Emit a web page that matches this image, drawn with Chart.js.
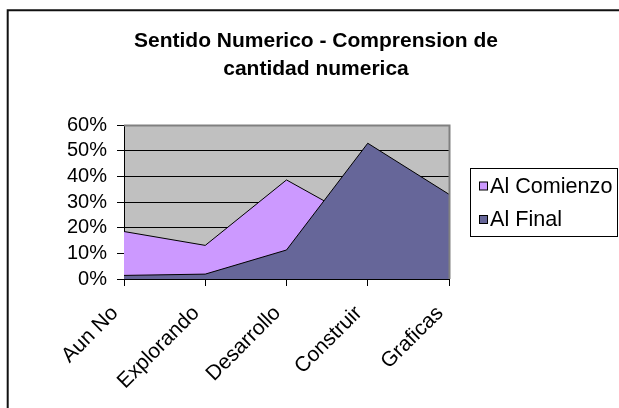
<!DOCTYPE html>
<html>
<head>
<meta charset="utf-8">
<script src="https://cdn.jsdelivr.net/npm/chart.js@4.4.0/dist/chart.umd.min.js"></script>
<style>
  html, body { margin: 0; padding: 0; background: #fff; overflow: hidden; }
  #wrap { width: 619px; height: 408px; position: relative; }
  canvas { display: block; }
</style>
</head>
<body>
<div id="wrap"><canvas id="c" width="619" height="408"></canvas></div>
<script>
const titleLines = ["Sentido Numerico - Comprension de", "cantidad numerica"];
const categories = ["Aun No", "Explorando", "Desarrollo", "Construir", "Graficas"];
const seriesNames = ["Al Comienzo", "Al Final"];
const alComienzo = [0.185, 0.131, 0.386, 0.21, 0.084];
const alFinal = [0.014, 0.019, 0.113, 0.529, 0.33];
const seriesColors = ["#CC99FF", "#666699"];
const yTicks = [0, 0.1, 0.2, 0.3, 0.4, 0.5, 0.6];

const FONT = "'Liberation Sans', Arial, sans-serif";

const decor = {
  id: 'decor',
  beforeDraw(chart) {
    const ctx = chart.ctx, a = chart.chartArea;
    ctx.save();
    ctx.fillStyle = '#fff';
    ctx.fillRect(0, 0, chart.width, chart.height);
    ctx.fillStyle = '#C0C0C0';
    ctx.fillRect(a.left, a.top, a.right - a.left, a.bottom - a.top);
    ctx.restore();
  },
  afterDatasetsDraw(chart) {
    const ctx = chart.ctx, a = chart.chartArea;
    ctx.save();
    ctx.strokeStyle = '#808080';
    ctx.lineWidth = 2;
    ctx.beginPath();
    ctx.moveTo(a.left, a.top + 0.5);
    ctx.lineTo(a.right + 0.5, a.top + 0.5);
    ctx.lineTo(a.right + 0.5, a.bottom);
    ctx.stroke();
    ctx.restore();
  },
  afterDraw(chart) {
    const ctx = chart.ctx;
    ctx.save();
    // outer frame (left and top edges visible)
    ctx.strokeStyle = '#111';
    ctx.lineWidth = 2;
    ctx.beginPath();
    ctx.moveTo(7.7, chart.height + 5);
    ctx.lineTo(7.7, 10.2);
    ctx.lineTo(chart.width + 5, 10.2);
    ctx.stroke();
    // title
    ctx.fillStyle = '#000';
    ctx.font = "bold 21px " + FONT;
    ctx.textAlign = 'center';
    ctx.textBaseline = 'middle';
    titleLines.forEach((t, i) => ctx.fillText(t, 316, 41 + i * 28.5));
    // legend
    ctx.strokeStyle = '#000';
    ctx.lineWidth = 1;
    ctx.strokeRect(470.5, 168.5, 147, 68);
    ctx.font = "21.6px " + FONT;
    ctx.textAlign = 'left';
    seriesNames.forEach((n, i) => {
      const cy = 186 + i * 33.5;
      ctx.fillStyle = seriesColors[i];
      ctx.fillRect(479.5, cy - 4, 8, 8);
      ctx.strokeRect(479.5, cy - 4, 8, 8);
      ctx.fillStyle = '#000';
      ctx.fillText(n, 490, cy + 1);
    });
    ctx.restore();
  }
};

new Chart(document.getElementById('c'), {
  type: 'line',
  data: {
    labels: categories,
    datasets: [
      { label: seriesNames[0], data: alComienzo, backgroundColor: seriesColors[0], borderColor: '#000', borderWidth: 1, fill: 'origin', pointRadius: 0, tension: 0, order: 2 },
      { label: seriesNames[1], data: alFinal, backgroundColor: seriesColors[1], borderColor: '#000', borderWidth: 1, fill: 'origin', pointRadius: 0, tension: 0, order: 1 }
    ]
  },
  options: {
    responsive: false,
    animation: false,
    devicePixelRatio: 1,
    layout: { padding: { left: 0, right: 170, top: 125, bottom: 0 } },
    plugins: { legend: { display: false }, title: { display: false }, tooltip: { enabled: false } },
    scales: {
      x: {
        type: 'category',
        offset: false,
        afterFit(s) { s.height = 129; },
        grid: { display: true, drawOnChartArea: false, drawTicks: true, tickLength: 7, color: '#000', lineWidth: 1 },
        border: { display: true, color: '#000', width: 1 },
        ticks: { color: '#000', font: { family: FONT, size: 21 }, minRotation: 45, maxRotation: 45, autoSkip: false, padding: 15, labelOffset: -9 }
      },
      y: {
        min: 0, max: 0.6,
        afterFit(s) { s.width = 124; },
        afterBuildTicks(s) { s.ticks = yTicks.map(v => ({ value: v })); },
        grid: { color: '#000', lineWidth: 1, drawTicks: true, tickLength: 7, tickColor: '#000' },
        border: { display: true, color: '#000', width: 1 },
        ticks: { color: '#000', font: { family: FONT, size: 20 }, padding: 10, autoSkip: false, callback: v => Math.round(v * 100) + '%' }
      }
    }
  },
  plugins: [decor]
});
</script>
</body>
</html>
